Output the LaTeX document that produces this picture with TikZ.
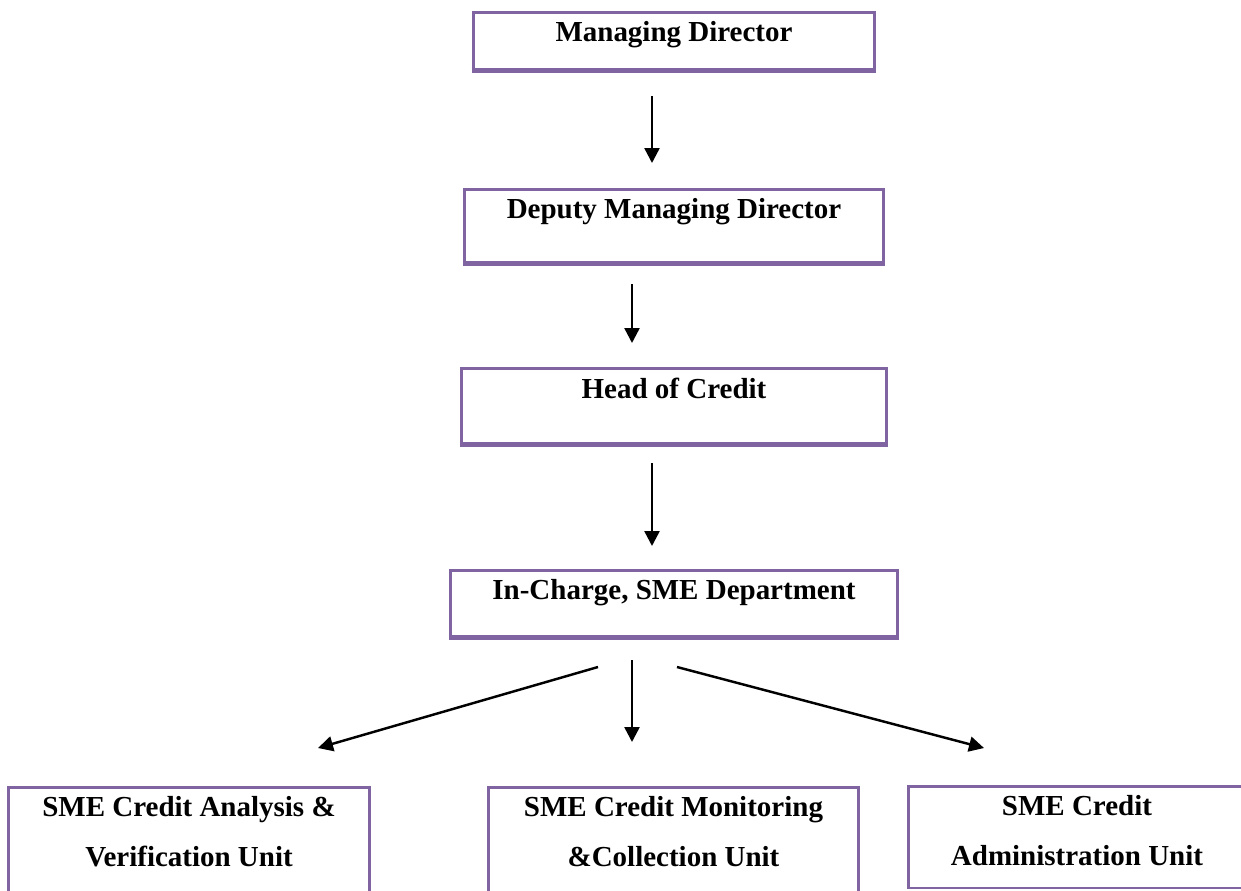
\documentclass[tikz,border=0pt]{standalone}
\usepackage{fontspec}
\setmainfont{Liberation Serif}
\usetikzlibrary{positioning,arrows.meta,calc}
\definecolor{boxpurple}{HTML}{8064A2}

\begin{document}
\begin{tikzpicture}[x=0.02cm, y=-0.02cm,
                    unit/.style={draw=boxpurple, line width=1.7pt, inner sep=0pt},
                    boxbase/.style={draw=boxpurple, line width=3pt},
                    title/.style={inner sep=0pt, align=center,
                                  font=\fontsize{16.5}{28.4}\selectfont\bfseries},
                    link/.style={-{Triangle[length=0.3cm, width=0.3cm]}, line width=1.4pt}]
    \clip (0,0) rectangle (1241,890);

    % Boxes
    \node[unit, minimum width=8.04cm, minimum height=1.14cm] (md) at (674,40.5) {};
    \node[unit, minimum width=8.40cm, minimum height=1.46cm] (dmd) at (674,225.5) {};
    \node[unit, minimum width=8.52cm, minimum height=1.50cm] (hoc) at (674,405.5) {};
    \node[unit, minimum width=8.96cm, minimum height=1.32cm] (sme) at (674,603) {};
    \node[unit, minimum width=7.24cm, minimum height=2.36cm] (ana) at (189,846) {};
    \node[unit, minimum width=7.42cm, minimum height=2.36cm] (mon) at (673.5,846) {};
    \node[unit, minimum width=6.76cm, minimum height=2.04cm] (adm) at (1077,837) {};

    % Thick lower edges
    \draw[boxbase] (md.south west) -- (md.south east);
    \draw[boxbase] (dmd.south west) -- (dmd.south east);
    \draw[boxbase] (hoc.south west) -- (hoc.south east);
    \draw[boxbase] (sme.south west) -- (sme.south east);

    % Texts
    \node[title, below=0.22cm of md.north] (mdtext) {Managing Director};
    \node[title, below=0.22cm of dmd.north] (dmdtext) {Deputy Managing Director};
    \node[title, below=0.22cm of hoc.north] (hoctext) {Head of Credit};
    \node[title, below=0.22cm of sme.north] (smetext) {In-Charge, SME Department};
    \node[title, below=0.22cm of ana.north] (anatext) {SME Credit Analysis \&\\Verification Unit};
    \node[title, below=0.22cm of mon.north] (montext) {SME Credit Monitoring\\\&Collection Unit};
    \node[title, below=0.22cm of adm.north] (admtext) {SME Credit\\Administration Unit};

    % Arrow ends
    \coordinate (md-out) at (652,96);
    \coordinate (dmd-in) at (652,163);
    \coordinate (dmd-out) at (632,284);
    \coordinate (hoc-in) at (632,343);
    \coordinate (hoc-out) at (652,463);
    \coordinate (sme-in) at (652,546);
    \coordinate (sme-outl) at (598,667);
    \coordinate (sme-outm) at (632,660);
    \coordinate (sme-outr) at (677,667);
    \coordinate (ana-in) at (318,748);
    \coordinate (mon-in) at (632,742);
    \coordinate (adm-in) at (984,748);

    \draw[link] (md-out) -- (dmd-in);
    \draw[link] (dmd-out) -- (hoc-in);
    \draw[link] (hoc-out) -- (sme-in);
    \draw[link] (sme-outl) -- (ana-in);
    \draw[link] (sme-outm) -- (mon-in);
    \draw[link] (sme-outr) -- (adm-in);
\end{tikzpicture}
\end{document}
